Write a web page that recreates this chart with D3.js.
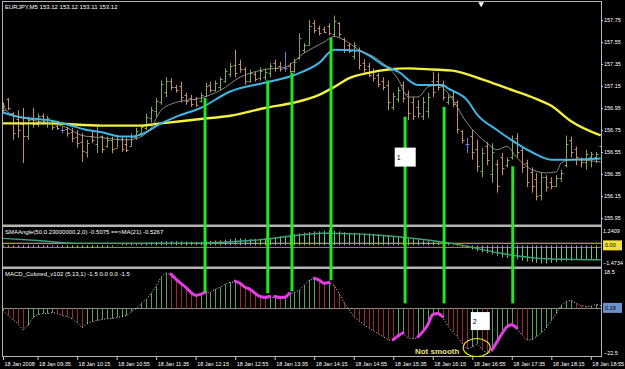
<!DOCTYPE html>
<html>
<head>
<meta charset="utf-8">
<script src="https://cdn.jsdelivr.net/npm/d3@7"></script>
<style>
  body { margin: 0; background: #000; }
  text { font-family: "Liberation Sans", Arial, sans-serif; }
</style>
</head>
<body>
<div id="chart"></div>
<script>
// EURJPY M5 bars, 18 Jan 2008, one entry per bar starting 09:00
let barOpen = [
  156.99,157.03,156.90,156.85,156.80,156.70,156.85,156.80,156.88,156.82,
  156.84,156.79,156.75,156.76,156.73,156.69,156.64,156.55,156.70,156.62,
  156.70,156.60,156.66,156.59,156.67,156.62,156.60,156.69,156.72,156.77,
  156.86,156.92,157.00,157.10,157.20,157.14,157.15,157.07,157.04,157.03,
  157.01,157.06,157.16,157.11,157.14,157.20,157.26,157.34,157.35,157.30,
  157.20,157.26,157.22,157.23,157.27,157.36,157.33,157.31,157.33,157.29,
  157.40,157.48,157.52,157.72,157.68,157.67,157.70,157.62,157.72,157.58,
  157.52,157.42,157.48,157.36,157.33,157.29,157.25,157.20,157.16,156.96,
  157.03,157.16,157.08,157.00,156.96,156.88,156.92,157.20,157.20,157.15,
  157.00,157.06,157.00,156.74,156.62,156.70,156.58,156.38,156.60,156.35,
  156.44,156.50,156.43,156.50,156.68,156.57,156.45,156.37,156.30,156.16,
  156.32,156.28,156.24,156.31,156.43,156.66,156.58,156.49,156.46,156.50,
  156.50,156.60]
let barHigh = [
  157.00,157.04,156.91,156.93,156.95,156.87,156.95,156.90,156.90,156.88,
  156.84,156.82,156.78,156.78,156.77,156.75,156.72,156.66,156.75,156.78,
  156.70,156.69,156.69,156.70,156.69,156.68,156.72,156.77,156.80,156.90,
  156.96,157.04,157.20,157.23,157.22,157.16,157.19,157.09,157.07,157.05,
  157.09,157.18,157.19,157.20,157.23,157.31,157.36,157.48,157.39,157.32,
  157.30,157.28,157.32,157.31,157.36,157.39,157.37,157.46,157.36,157.40,
  157.63,157.54,157.75,157.75,157.70,157.69,157.72,157.79,157.73,157.59,
  157.54,157.55,157.50,157.39,157.36,157.31,157.27,157.23,157.20,157.09,
  157.14,157.19,157.11,157.05,157.02,157.05,157.09,157.28,157.27,157.20,
  157.07,157.10,157.02,156.75,156.68,156.75,156.66,156.59,156.64,156.63,
  156.48,156.54,156.50,156.70,156.72,156.60,156.48,156.41,156.36,156.36,
  156.34,156.32,156.34,156.39,156.70,156.69,156.60,156.50,156.57,156.55,
  156.55,156.66]
let barLow = [
  156.90,156.93,156.66,156.68,156.45,156.66,156.77,156.78,156.80,156.77,
  156.75,156.75,156.72,156.69,156.64,156.59,156.46,156.50,156.63,156.54,
  156.54,156.59,156.54,156.59,156.55,156.55,156.60,156.66,156.69,156.75,
  156.82,156.87,156.98,157.05,157.11,157.09,157.00,156.98,156.96,156.96,
  157.00,157.05,157.09,157.10,157.11,157.18,157.23,157.23,157.27,157.16,
  157.18,157.19,157.20,157.20,157.23,157.28,157.28,157.28,157.27,157.27,
  157.39,157.45,157.52,157.63,157.61,157.63,157.61,157.60,157.59,157.45,
  157.45,157.39,157.30,157.27,157.23,157.19,157.14,157.11,156.93,156.93,
  157.00,157.00,156.84,156.84,156.86,156.84,156.86,157.05,157.11,157.02,
  156.98,156.96,156.72,156.63,156.54,156.48,156.37,156.32,156.43,156.27,
  156.18,156.34,156.41,156.48,156.50,156.36,156.23,156.18,156.11,156.11,
  156.19,156.21,156.23,156.28,156.41,156.50,156.43,156.41,156.39,156.41,
  156.45,156.48]
let barClose = [
  156.93,156.95,156.72,156.75,156.70,156.84,156.80,156.88,156.83,156.86,
  156.78,156.77,156.75,156.72,156.68,156.63,156.56,156.63,156.66,156.74,
  156.58,156.66,156.58,156.67,156.58,156.57,156.69,156.74,156.78,156.87,
  156.93,157.01,157.17,157.20,157.14,157.11,157.05,157.01,156.99,156.98,
  157.07,157.15,157.11,157.18,157.21,157.29,157.33,157.27,157.30,157.20,
  157.27,157.21,157.29,157.28,157.33,157.31,157.30,157.31,157.29,157.37,
  157.59,157.52,157.70,157.66,157.63,157.64,157.63,157.74,157.62,157.48,
  157.47,157.52,157.34,157.30,157.25,157.22,157.17,157.14,157.00,157.06,
  157.11,157.04,156.90,156.88,156.90,157.00,157.05,157.10,157.14,157.05,
  157.05,156.99,156.76,156.66,156.62,156.55,156.42,156.54,156.48,156.55,
  156.24,156.40,156.48,156.66,156.55,156.41,156.28,156.24,156.15,156.32,
  156.23,156.24,156.31,156.36,156.62,156.55,156.50,156.46,156.53,156.53,
  156.53,156.52]

// moving averages: [bar index, price]
let maFast = [[0,157.00],[1,156.91],[6,156.84],[13,156.77],[16,156.70],[20,156.68],[25,156.66],
  [28,156.69],[30,156.77],[32,156.93],[35,157.00],[40,157.04],[44,157.11],[48,157.23],[53,157.30],
  [57,157.32],[61,157.45],[65,157.55],[67,157.60],[69,157.57],[72,157.48],[76,157.39],[80,157.21],
  [82,157.05],[84,157.05],[86,157.14],[88,157.16],[90,157.09],[94,156.81],[98,156.63],[100,156.57],
  [102,156.60],[104,156.50],[107,156.39],[110,156.36],[112,156.37],[113,156.45],[115,156.48],[121,156.46]]
let maMid = [[0,156.91],[3,156.87],[9,156.84],[13,156.80],[17,156.75],[20,156.73],[24,156.69],
  [26,156.69],[28,156.71],[32,156.81],[35,156.87],[40,156.95],[46,157.10],[53,157.18],[59,157.25],
  [64,157.36],[67,157.48],[72,157.47],[74,157.43],[77,157.34],[80,157.28],[84,157.16],[89,157.16],
  [90,157.13],[94,157.02],[96,156.89],[100,156.75],[107,156.55],[111,156.48],[115,156.48],[121,156.49]]
let maSlow = [[0,156.81],[9,156.81],[20,156.79],[28,156.79],[32,156.81],[40,156.85],[46,156.88],
  [53,156.95],[59,157.00],[64,157.07],[67,157.14],[70,157.22],[74,157.27],[78,157.30],[82,157.31],
  [87,157.30],[91,157.29],[97,157.21],[102,157.13],[107,157.05],[111,156.97],[115,156.83],[121,156.70]]

// SMAAngle histogram, one per bar
let angleVals = [
  -0.10,-0.12,-0.15,-0.15,-0.18,-0.18,-0.15,-0.15,-0.12,-0.12,-0.10,-0.12,-0.15,-0.15,-0.18,-0.20,
  -0.20,-0.18,-0.18,-0.15,-0.15,-0.12,-0.10,
  0.05,0.08,0.10,0.12,0.15,0.18,
  0.20,0.22,0.25,0.28,0.30,0.30,0.30,0.28,0.28,0.26,0.26,0.26,
  0.30,0.32,0.34,0.36,0.40,0.45,0.50,0.50,0.48,0.46,0.46,0.48,0.50,0.55,
  0.60,0.65,0.70,0.75,0.80,0.85,0.90,0.95,1.00,1.00,1.05,1.10,1.05,1.00,0.95,0.90,0.90,0.88,
  0.85,0.85,0.82,0.80,0.75,0.70,0.65,0.60,0.55,0.50,0.45,0.40,0.35,0.30,0.25,0.20,0.15,0.10,0.05,
  -0.05,-0.10,-0.20,-0.30,-0.40,-0.50,-0.55,-0.65,-0.75,-0.85,-0.90,-0.95,-1.00,-1.10,-1.15,
  -1.20,-1.25,-1.30,-1.30,-1.25,-1.20,-1.15,-1.10,-1.10,-1.05,-1.05,-1.00,-1.00,-1.00,-1.00]
let angleMa = [[0,0.50],[7,0.35],[15,0.14],[30,0.14],[40,0.16],[52,0.40],[65,0.87],[80,0.62],
  [92,0.07],[100,-0.52],[110,-0.96],[121,-1.03]]
let angleLevels = [0.15, -0.15]

// MACD_Colored (5,13,1), one per bar
let macdVals = [
  -1.0,-3.4,-5.3,-7.3,-10.1,-8.2,-4.4,-3.0,-2.5,-2.5,
  -2.0,-2.5,-3.4,-3.9,-4.9,-6.8,-9.2,-7.3,-6.3,-5.8,
  -5.3,-4.9,-4.9,-4.4,-3.9,-3.4,-1.5,-0.1,2.3,4.2,
  7.1,10.4,14.7,16.6,15.6,13.3,11.3,9.4,7.1,5.6,
  6.1,7.1,7.5,9.0,9.9,11.3,12.3,12.3,11.3,9.4,
  8.5,6.6,5.1,4.7,5.1,5.1,4.7,4.7,6.6,7.5,
  8.5,10.9,13.3,13.7,12.8,11.3,11.8,10.9,7.1,2.8,
  -0.6,-3.9,-5.8,-7.7,-9.2,-10.6,-12.0,-13.4,-14.9,-15.3,
  -13.4,-12.0,-13.9,-14.4,-13.9,-11.5,-8.2,-3.4,-3.0,-4.4,
  -8.2,-11.1,-13.4,-16.8,-19.2,-18.2,-16.8,-19.2,-21.5,-20.1,
  -16.3,-12.5,-9.2,-8.2,-9.7,-12.5,-14.9,-14.9,-13.4,-11.5,
  -9.2,-5.8,-2.5,1.3,3.2,3.7,2.3,1.3,0.9,0.9,
  1.8,1.3]

// hand drawn marks
let magentaRanges = [[34,41],[47,54],[55,58],[63,66],[79,81],[84,89],[99,104]]
let markerIdx = [40.9, 53.6, 58.5, 66.4, 81.4, 89.3, 103.2]
let markerTop = [157.04, 157.20, 157.27, 157.59, 156.87, 156.96, 156.42]   // price
let markerBottom = [7.5, 7.1, 8.0, 13.2, 2.3, 2.3, 2.3]                    // macd

let timeIdx = [0,7,15,23,31,39,47,55,63,71,79,87,95,103,111,119]
let timeLabels = ["18 Jan 2008","18 Jan 09:35","18 Jan 10:15","18 Jan 10:55","18 Jan 11:35",
  "18 Jan 12:15","18 Jan 12:55","18 Jan 13:35","18 Jan 14:15","18 Jan 14:55","18 Jan 15:35",
  "18 Jan 16:15","18 Jan 16:55","18 Jan 17:35","18 Jan 18:15","18 Jan 18:55"]
let priceTicks = [157.75,157.55,157.35,157.15,156.95,156.75,156.55,156.35,156.15,155.95]

let svg = d3.select("#chart").append("svg")
  .attr("width", 625).attr("height", 369)
  .style("background", "#000")

let x = d3.scaleLinear().domain([0, 121]).range([3, 600.7])
let yPrice = d3.scaleLinear().domain([155.95, 157.75]).range([218, 20])
let yAngle = d3.scaleLinear().domain([-1.4734, 1.2409]).range([266, 228])
let yMacd = d3.scaleLinear().domain([-22.5, 18.5]).range([356, 269])

let defs = svg.append("defs")
function clip(id, y0, y1) {
  defs.append("clipPath").attr("id", id).append("rect")
    .attr("x", 3).attr("y", y0).attr("width", 598).attr("height", y1 - y0)
}
clip("cMain", 3, 225)
clip("cAngle", 227, 267)
clip("cMacd", 269, 356)

// frame
let frame = "#b4b4b4"
svg.append("rect").attr("x", 2.5).attr("y", 1.5).attr("width", 599).attr("height", 355)
  .attr("fill", "none").attr("stroke", frame)
svg.append("rect").attr("x", 2).attr("y", 224.5).attr("width", 600).attr("height", 2.5).attr("fill", frame)
svg.append("rect").attr("x", 2).attr("y", 266.5).attr("width", 600).attr("height", 2.5).attr("fill", frame)

// ---- main pane
let main = svg.append("g").attr("clip-path", "url(#cMain)")

let bars = barOpen.map((o, i) => ({ i: i, o: o, h: barHigh[i], l: barLow[i], c: barClose[i] }))
let barColor = d => d.c > d.o ? "#7ea85c" : (d.c < d.o ? "#c3906a" : "#7480d8")
let px = d => Math.round(x(d.i)) + 0.5

let bg = main.selectAll("g.bar").data(bars).enter().append("g").attr("class", "bar")
  .attr("stroke", barColor).attr("stroke-width", 1)
bg.append("line").attr("x1", px).attr("x2", px)
  .attr("y1", d => yPrice(d.h)).attr("y2", d => yPrice(d.l))
bg.append("line").attr("x1", d => px(d) - 2).attr("x2", px)
  .attr("y1", d => Math.round(yPrice(d.o)) + 0.5).attr("y2", d => Math.round(yPrice(d.o)) + 0.5)
bg.append("line").attr("x1", px).attr("x2", d => px(d) + 2)
  .attr("y1", d => Math.round(yPrice(d.c)) + 0.5).attr("y2", d => Math.round(yPrice(d.c)) + 0.5)

let maLine = d3.line().x(d => x(d[0])).y(d => yPrice(d[1])).curve(d3.curveMonotoneX)
main.append("path").datum(maSlow).attr("d", maLine)
  .attr("fill", "none").attr("stroke", "#f2f040").attr("stroke-width", 2.4)
main.append("path").datum(maMid).attr("d", maLine)
  .attr("fill", "none").attr("stroke", "#3fb6e8").attr("stroke-width", 2)
main.append("path").datum(maFast).attr("d", maLine)
  .attr("fill", "none").attr("stroke", "#a8a8a8").attr("stroke-width", 0.8)

svg.append("text").attr("x", 5).attr("y", 9).attr("fill", "#fff").attr("font-size", 6)
  .text("EURJPY,M5  153.12 153.12 153.11 153.12")

// shift marker
svg.append("path").attr("d", d3.symbol().type(d3.symbolTriangle).size(14)())
  .attr("transform", "translate(" + x(96.8) + ",4) rotate(180)").attr("fill", "#fff")

// ---- SMAAngle pane
let ang = svg.append("g").attr("clip-path", "url(#cAngle)")
angleLevels.forEach((v, k) => {
  ang.append("line").attr("x1", 3).attr("x2", 601)
    .attr("y1", yAngle(v)).attr("y2", yAngle(v))
    .attr("stroke", k == 0 ? "#d8d040" : "#b08040").attr("stroke-width", 1)
})
ang.selectAll("line.ah").data(angleVals).enter().append("line").attr("class", "ah")
  .attr("x1", (d, i) => Math.round(x(i)) + 0.5).attr("x2", (d, i) => Math.round(x(i)) + 0.5)
  .attr("y1", yAngle(0)).attr("y2", d => yAngle(d))
  .attr("stroke", d => Math.abs(d) < 0.23 && d < 0.05 ? "#c8b850" : "#6cc08c")
  .attr("stroke-width", 1)
ang.append("path").datum(angleMa)
  .attr("d", d3.line().x(d => x(d[0])).y(d => yAngle(d[1])).curve(d3.curveMonotoneX))
  .attr("fill", "none").attr("stroke", "#3f9f7a").attr("stroke-width", 1.4)
svg.append("text").attr("x", 5).attr("y", 234).attr("fill", "#fff").attr("font-size", 6)
  .text("SMAAngle(50,0.23000000,2,0) -0.5075  ==>MA(21) -0.5267")

// ---- MACD pane
let mac = svg.append("g").attr("clip-path", "url(#cMacd)")
mac.append("line").attr("x1", 3).attr("x2", 601)
  .attr("y1", Math.round(yMacd(0)) + 0.5).attr("y2", Math.round(yMacd(0)) + 0.5)
  .attr("stroke", "#8a8a8a")
mac.selectAll("line.mh").data(macdVals).enter().append("line").attr("class", "mh")
  .attr("x1", (d, i) => Math.round(x(i)) + 0.5).attr("x2", (d, i) => Math.round(x(i)) + 0.5)
  .attr("y1", yMacd(0)).attr("y2", d => yMacd(d))
  .attr("stroke", (d, i) => (i > 0 && d < macdVals[i - 1]) ? "#9c2c2c" : "#5f9f5f")
  .attr("stroke-width", 1)
let macdLine = d3.line().x((d, i) => x(i)).y(d => yMacd(d))
mac.append("path").datum(macdVals).attr("d", macdLine)
  .attr("fill", "none").attr("stroke", "#e0e0e0").attr("stroke-width", 1)
  .attr("stroke-dasharray", "1,2")

let segLine = d3.line().x(d => x(d)).y(d => yMacd(macdVals[d]) - 1).curve(d3.curveMonotoneX)
mac.selectAll("path.mg").data(magentaRanges).enter().append("path").attr("class", "mg")
  .attr("d", r => segLine(d3.range(r[0], r[1] + 1)))
  .attr("fill", "none").attr("stroke", "#e23ce2").attr("stroke-width", 3)
  .attr("stroke-linecap", "round").attr("stroke-linejoin", "round")

svg.append("text").attr("x", 5).attr("y", 276).attr("fill", "#fff").attr("font-size", 6)
  .text("MACD_Colored_v102 (5,13,1) -1.5 0.0 0.0 -1.5")

// ---- green marker lines across panes
svg.selectAll("line.mk").data(markerIdx).enter().append("line").attr("class", "mk")
  .attr("x1", d => x(d)).attr("x2", d => x(d))
  .attr("y1", (d, i) => yPrice(markerTop[i])).attr("y2", (d, i) => yMacd(markerBottom[i]))
  .attr("stroke", "#22e622").attr("stroke-width", 3)

// numbered boxes
let boxes = [
  { label: "1", bx: x(79.3), by: yPrice(156.59), w: 21, h: 19 },
  { label: "2", bx: x(94.7), by: yMacd(-1.8), w: 19, h: 18 }
]
boxes.forEach(b => {
  svg.append("rect").attr("x", b.bx).attr("y", b.by).attr("width", b.w).attr("height", b.h).attr("fill", "#fff")
  svg.append("text").attr("x", b.bx + 2).attr("y", b.by + 12).attr("font-size", 7).attr("fill", "#000").text(b.label)
})

svg.append("ellipse").attr("cx", x(95.9)).attr("cy", yMacd(-18.5)).attr("rx", 13.5).attr("ry", 9)
  .attr("fill", "none").attr("stroke", "#e8e030").attr("stroke-width", 1.2)
svg.append("text").attr("x", x(83.4)).attr("y", yMacd(-20.4)).attr("dy", "0.35em")
  .attr("font-size", 8).attr("font-weight", "bold").attr("fill", "#ece07a").text("Not smooth")

// ---- axes
function styleAxis(g) {
  g.select(".domain").remove()
  g.selectAll(".tick line").attr("stroke", "#c8c8c8")
  g.selectAll(".tick text").attr("fill", "#fff").attr("font-size", 5.5)
    .attr("font-family", "Liberation Sans, Arial, sans-serif")
}

svg.append("g").attr("transform", "translate(601,0)")
  .call(d3.axisRight(yPrice).tickValues(priceTicks).tickSize(2).tickPadding(1).tickFormat(d3.format(".2f")))
  .call(styleAxis)

let angAxis = svg.append("g").attr("transform", "translate(601,0)")
  .call(d3.axisRight(yAngle).tickValues([1.2409, -1.4734]).tickSize(0).tickPadding(2).tickFormat(d3.format(".4f")))
  .call(styleAxis)
angAxis.selectAll(".tick text").attr("dy", d => d > 0 ? "0.9em" : "-0.3em")

let macAxis = svg.append("g").attr("transform", "translate(601,0)")
  .call(d3.axisRight(yMacd).tickValues([18.5, -22.5]).tickSize(0).tickPadding(3).tickFormat(d3.format(".1f")))
  .call(styleAxis)
macAxis.selectAll(".tick text").attr("dy", d => d > 0 ? "0.9em" : "-0.2em")

// current value boxes
let valBoxes = [
  { t: "0.00", y: yAngle(0), fill: "#f0e038" },
  { t: "0.18", y: yMacd(0.18), fill: "#6d8fcc" }
]
valBoxes.forEach(b => {
  svg.append("rect").attr("x", 603).attr("y", b.y - 5).attr("width", 19).attr("height", 10).attr("fill", b.fill)
  svg.append("text").attr("x", 605).attr("y", b.y).attr("dy", "0.35em").attr("font-size", 5.5)
    .attr("fill", "#000").text(b.t)
})

let tAxis = svg.append("g").attr("transform", "translate(0,357)")
  .call(d3.axisBottom(x).tickValues(timeIdx).tickSize(3).tickPadding(2)
    .tickFormat((d, i) => timeLabels[i]))
  .call(styleAxis)
tAxis.selectAll(".tick text").attr("text-anchor", "start").attr("x", 1)
</script>
</body>
</html>
